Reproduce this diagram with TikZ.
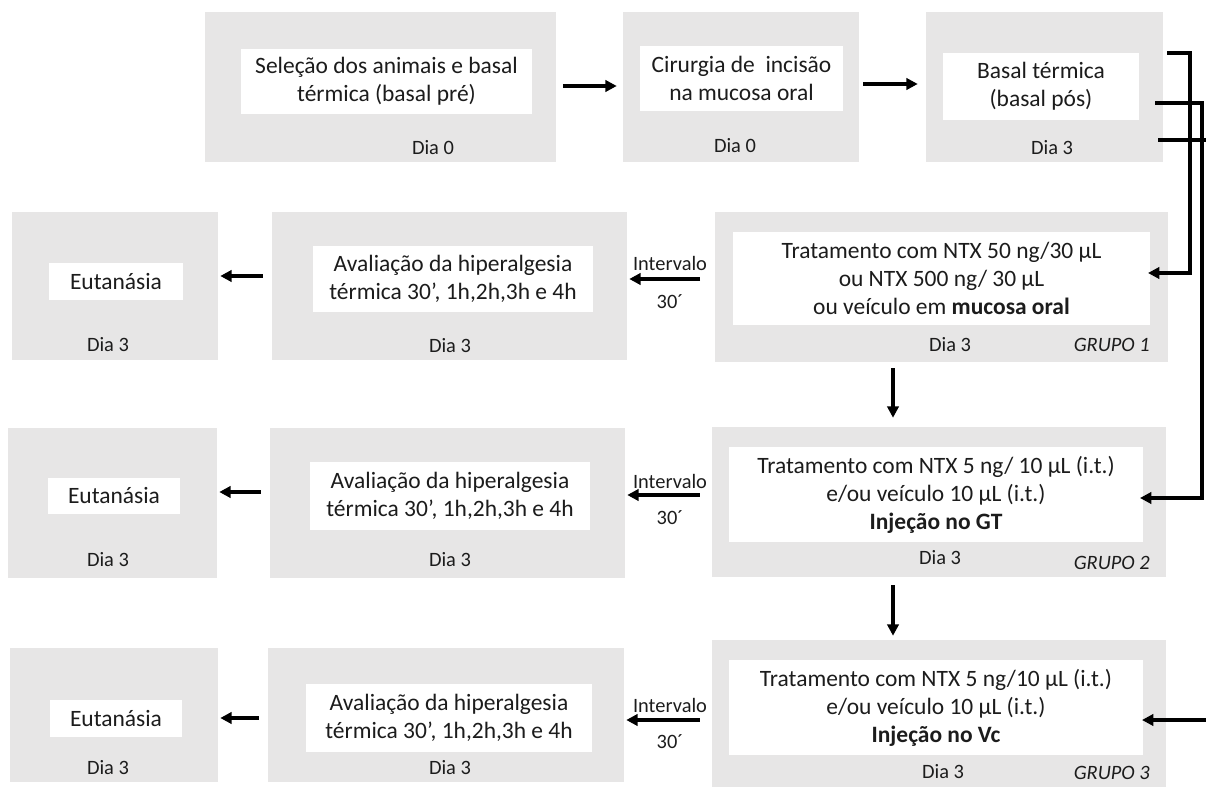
\documentclass[tikz,border=0pt]{standalone}
\usepackage{fontspec}
\setmainfont{Carlito}
\usetikzlibrary{arrows.meta,fit}
\definecolor{boxgray}{HTML}{E7E6E6}
\definecolor{ink}{HTML}{1C1C1C}

\begin{document}
\begin{tikzpicture}[x=0.75pt,y=-0.75pt,
  gbox/.style={fill=boxgray, draw=none, inner sep=0pt},
  wbox/.style={fill=white, draw=none, inner sep=0pt},
  wtext/.style={align=center, inner sep=0pt, text=ink,
               font=\fontsize{17.6}{21}\selectfont},
  small/.style={font=\fontsize{15.3}{18}\selectfont, text=ink, inner sep=0pt},
  grp/.style={font=\fontsize{15.3}{18}\selectfont\itshape, text=ink, inner sep=0pt, anchor=east},
  arr/.style={draw=black, line width=2.3pt, -{Triangle[length=8.5pt,width=8.5pt]}},
]
\useasboundingbox (0,0) rectangle (1206,787);

% ---- first row: preparation ----
\node[gbox, fit={(205,12) (556,162)}] (selG) {};
\node[wbox, fit={(241,49) (532,114)}] (selW) {};
\node[wtext] (selT) at (selW.center) {Seleção dos animais e basal\\térmica (basal pré)};
\node[small] (selD) at (433,148) {Dia 0};

\node[gbox, fit={(623,12) (859,162)}] (cirG) {};
\node[wbox, fit={(640,46) (843,111)}] (cirW) {};
\node[wtext] (cirT) at (cirW.center) {Cirurgia de~ incisão\\na mucosa oral};
\node[small] (cirD) at (735,146) {Dia 0};

\node[gbox, fit={(926,12) (1163,162)}] (basG) {};
\node[wbox, fit={(943,53) (1139,120)}] (basW) {};
\node[wtext] (basT) at (basW.center) {Basal térmica\\(basal pós)};
\node[small] (basD) at (1052,148) {Dia 3};

\draw[arr, shorten <=5pt, shorten >=4.5pt] (selG.east |- 0,86) -- (cirG.west |- 0,86);
\draw[arr, shorten <=3pt, shorten >=6pt] (cirG.east |- 0,84) -- (basG.west |- 0,84);

% ---- group 1 ----
\node[gbox, fit={(12,212) (218,360)}] (eu1G) {};
\node[wbox, fit={(49,263) (183,300)}] (eu1W) {};
\node[wtext] (eu1T) at (eu1W.center) {Eutanásia};
\node[small] (eu1D) at (108,345) {Dia 3};

\node[gbox, fit={(272,212) (627,360)}] (av1G) {};
\node[wbox, fit={(313,246) (593,312)}] (av1W) {};
\node[wtext] (av1T) at (av1W.center) {Avaliação da hiperalgesia\\térmica 30’, 1h,2h,3h e 4h};
\node[small] (av1D) at (450,346) {Dia 3};

\node[gbox, fit={(715,212) (1168,362)}] (tr1G) {};
\node[wbox, fit={(733,232) (1150,325)}] (tr1W) {};
\node[wtext] (tr1T) at (tr1W.center) {Tratamento com NTX 50 ng/30 µL\\ou NTX 500 ng/ 30 µL\\ou veículo em \textbf{mucosa oral}};
\node[small] (tr1D) at (950,345) {Dia 3};
\node[grp] (tr1N) at (1150,345) {GRUPO 1};

\node[small] (iv1) at (670,263) {Intervalo};
\node[small] (mn1) at (670,302) {30´};
\draw[arr, shorten <=11pt, shorten >=1.5pt] (tr1G.west |- 0,279) -- (av1G.east |- 0,279);
\draw[arr, shorten <=6.75pt, shorten >=1.5pt] (av1G.west |- 0,276) -- (eu1G.east |- 0,276);

% ---- group 2 ----
\node[gbox, fit={(8,428) (217,578)}] (eu2G) {};
\node[wbox, fit={(48,478) (180,514)}] (eu2W) {};
\node[wtext] (eu2T) at (eu2W.center) {Eutanásia};
\node[small] (eu2D) at (108,560) {Dia 3};

\node[gbox, fit={(270,428) (625,578)}] (av2G) {};
\node[wbox, fit={(310,462) (590,530)}] (av2W) {};
\node[wtext] (av2T) at (av2W.center) {Avaliação da hiperalgesia\\térmica 30’, 1h,2h,3h e 4h};
\node[small] (av2D) at (450,560) {Dia 3};

\node[gbox, fit={(712,427) (1166,577)}] (tr2G) {};
\node[wbox, fit={(729,447) (1143,542)}] (tr2W) {};
\node[wtext] (tr2T) at (tr2W.center) {Tratamento com NTX 5 ng/ 10 µL (i.t.)\\e/ou veículo 10 µL (i.t.)\\\textbf{Injeção no GT}};
\node[small] (tr2D) at (940,558) {Dia 3};
\node[grp] (tr2N) at (1150,563) {GRUPO 2};

\node[small] (iv2) at (670,481) {Intervalo};
\node[small] (mn2) at (670,518) {30´};
\draw[arr, shorten <=9pt, shorten >=1.5pt] (tr2G.west |- 0,495) -- (av2G.east |- 0,495);
\draw[arr, shorten <=6.75pt, shorten >=1.5pt] (av2G.west |- 0,492) -- (eu2G.east |- 0,492);

% ---- group 3 ----
\node[gbox, fit={(10,648) (218,782)}] (eu3G) {};
\node[wbox, fit={(50,700) (182,737)}] (eu3W) {};
\node[wtext] (eu3T) at (eu3W.center) {Eutanásia};
\node[small] (eu3D) at (108,768) {Dia 3};

\node[gbox, fit={(268,648) (624,782)}] (av3G) {};
\node[wbox, fit={(306,684) (592,752)}] (av3W) {};
\node[wtext] (av3T) at (av3W.center) {Avaliação da hiperalgesia\\térmica 30’, 1h,2h,3h e 4h};
\node[small] (av3D) at (450,768) {Dia 3};

\node[gbox, fit={(712,640) (1166,790)}] (tr3G) {};
\node[wbox, fit={(729,660) (1143,755)}] (tr3W) {};
\node[wtext] (tr3T) at (tr3W.center) {Tratamento com NTX 5 ng/10 µL (i.t.)\\e/ou veículo 10 µL (i.t.)\\\textbf{Injeção no Vc}};
\node[small] (tr3D) at (943,772) {Dia 3};
\node[grp] (tr3N) at (1150,773) {GRUPO 3};

\node[small] (iv3) at (670,705) {Intervalo};
\node[small] (mn3) at (670,742) {30´};
\draw[arr, shorten <=9pt, shorten >=1.5pt] (tr3G.west |- 0,720) -- (av3G.east |- 0,720);
\draw[arr, shorten <=6.75pt, shorten >=1.5pt] (av3G.west |- 0,718) -- (eu3G.east |- 0,718);

% ---- links between the groups ----
\draw[arr, shorten <=4.5pt, shorten >=6.75pt] (tr1G.south -| 893,0) -- (tr2G.north -| 893,0);
\draw[arr, shorten <=6pt, shorten >=3pt] (tr2G.south -| 893,0) -- (tr3G.north -| 893,0);

% ---- branches from the thermal baseline ----
\coordinate (b1) at (1167,53);
\coordinate (k1) at (1190,273);
\coordinate (e1) at (1148,273);
\coordinate (b2) at (1155,103);
\coordinate (k2) at (1202,498);
\coordinate (e2) at (1140,498);
\coordinate (b3) at (1158,140);
\coordinate (k3) at (1215,140);
\coordinate (k4) at (1215,720);
\coordinate (e4) at (1142,720);
\draw[arr] (b1) -| (k1) -- (e1);
\draw[arr] (b2) -| (k2) -- (e2);
\draw[line width=2.3pt] (b3) -- (k3);
\draw[arr] (k4) -- (e4);
\end{tikzpicture}
\end{document}
